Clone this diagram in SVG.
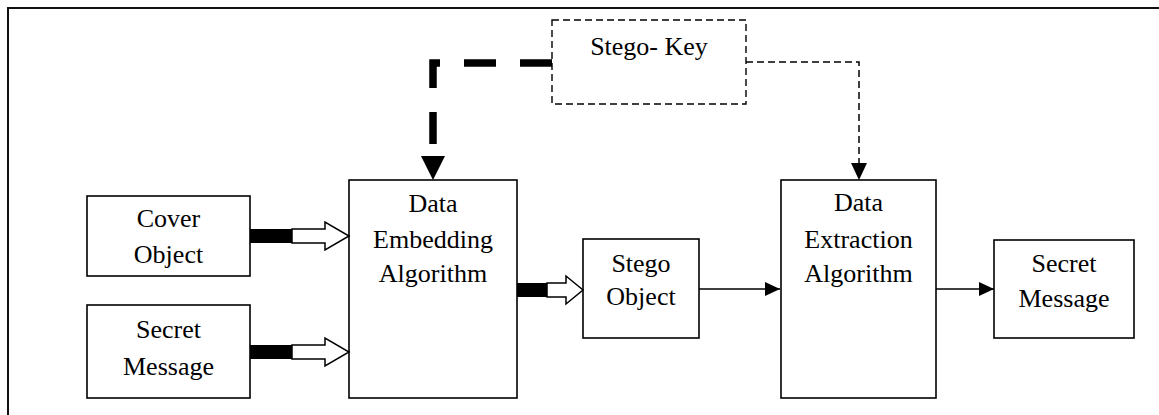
<svg xmlns="http://www.w3.org/2000/svg" width="1159" height="415" viewBox="0 0 1159 415">
<style>
.box{fill:#fff;stroke:#000;stroke-width:1.6}
.dbox{fill:#fff;stroke:#000;stroke-width:1.4;stroke-dasharray:7 4}
.t{font-family:"Liberation Serif","Times New Roman",serif;font-size:26px;fill:#000;text-anchor:middle}
.hollow{fill:#fff;stroke:#000;stroke-width:1.5;stroke-linejoin:miter}
.thin{fill:none;stroke:#000;stroke-width:1.5}
</style>
<defs>
<marker id="tri" viewBox="0 0 15 14" refX="15" refY="7" markerWidth="15" markerHeight="14" markerUnits="userSpaceOnUse" orient="auto">
<path d="M0,0 L15,7 L0,14 z" fill="#000"/>
</marker>
</defs>
<rect x="0" y="0" width="1159" height="415" fill="#fff"/>
<g id="frame">
<path d="M8,415 L8,8 L1159,8" fill="none" stroke="#111" stroke-width="2"/>
</g>
<g id="cover">
<rect class="box" x="87" y="196" width="163" height="80"/>
<text class="t" x="168.5" y="227">Cover</text>
<text class="t" x="168.5" y="263">Object</text>
</g>
<g id="secret-in">
<rect class="box" x="87" y="305" width="163" height="93"/>
<text class="t" x="168.5" y="338">Secret</text>
<text class="t" x="168.5" y="375">Message</text>
</g>
<g id="embed">
<rect class="box" x="349" y="180" width="168" height="218"/>
<text class="t" x="433" y="212">Data</text>
<text class="t" x="433" y="248">Embedding</text>
<text class="t" x="433" y="282">Algorithm</text>
</g>
<g id="stego-obj">
<rect class="box" x="583" y="239" width="116" height="99"/>
<text class="t" x="641" y="272">Stego</text>
<text class="t" x="641" y="305">Object</text>
</g>
<g id="extract">
<rect class="box" x="781" y="180" width="155" height="218"/>
<text class="t" x="858.5" y="211">Data</text>
<text class="t" x="858.5" y="248">Extraction</text>
<text class="t" x="858.5" y="282">Algorithm</text>
</g>
<g id="secret-out">
<rect class="box" x="994" y="240" width="140" height="98"/>
<text class="t" x="1064" y="272">Secret</text>
<text class="t" x="1064" y="307">Message</text>
</g>
<g id="key">
<rect class="dbox" x="552" y="20" width="194" height="84"/>
<text class="t" x="649" y="55">Stego- Key</text>
</g>
<g id="connectors">
<rect x="250" y="229" width="42" height="14" fill="#000"/>
<path class="hollow" d="M292,229 L325,229 L325,222 L349,236 L325,250 L325,243 L292,243 Z"/>
<rect x="250" y="345" width="42" height="14" fill="#000"/>
<path class="hollow" d="M292,345 L325,345 L325,338 L349,352 L325,366 L325,359 L292,359 Z"/>
<rect x="517" y="283" width="30" height="14" fill="#000"/>
<path class="hollow" d="M547,283 L566,283 L566,276 L583,290 L566,304 L566,297 L547,297 Z"/>
<path d="M699,289 L780,289" class="thin" marker-end="url(#tri)"/>
<path d="M936,289 L994,289" class="thin" marker-end="url(#tri)"/>
<path d="M552,63 L433,63 L433,157" fill="none" stroke="#000" stroke-width="7.5" stroke-dasharray="32 24" stroke-linejoin="miter"/>
<path d="M421,156 L445,156 L433,180 Z" fill="#000"/>
<path d="M746,62 L859,62 L859,165" fill="none" stroke="#000" stroke-width="1.5" stroke-dasharray="7 4"/>
<path d="M851,163 L867,163 L859,180 Z" fill="#000"/>
</g>
</svg>
